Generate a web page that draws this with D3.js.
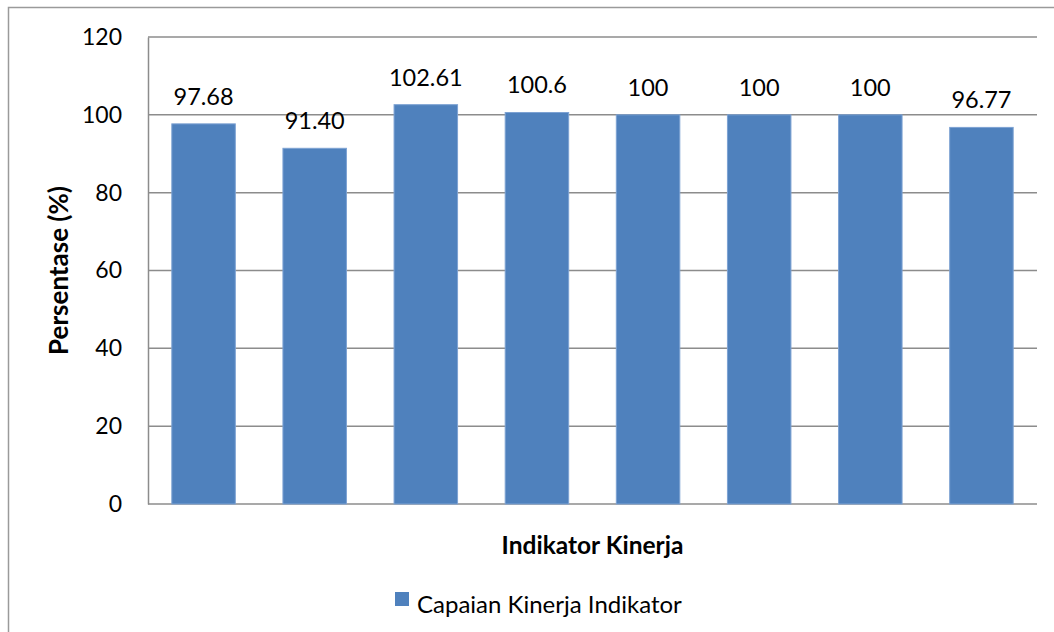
<!DOCTYPE html>
<html><head><meta charset="utf-8">
<script src="https://cdn.jsdelivr.net/npm/d3@7"></script>
<style>body{margin:0;background:#fff;}svg{display:block;font-family:Lato,"Open Sans",sans-serif;}</style>
</head><body>
<svg id="c" width="1054" height="632"></svg>
<script>
const categories = ["1","2","3","4","5","6","7","8"];
const values = [97.68, 91.40, 102.61, 100.6, 100, 100, 100, 96.77];
const valueLabels = ["97.68","91.40","102.61","100.6","100","100","100","96.77"];
const yTicks = [0,20,40,60,80,100,120];
const seriesName = "Capaian Kinerja Indikator";
const xTitle = "Indikator Kinerja";
const yTitle = "Persentase (%)";

const svg = d3.select("#c");
const L=148, R=1037, T=37, B=504;
svg.append("rect").attr("x",8.5).attr("y",7.5).attr("width",1100).attr("height",700)
  .attr("fill","none").attr("stroke","#9a9a9a").attr("stroke-width",1.5);

const x = d3.scaleBand().domain(categories).range([L,R]).paddingInner(0.75/1.75).paddingOuter(0.75/3.5);
const y = d3.scaleLinear().domain([0,120]).range([B,T]);

svg.append("g").selectAll("line").data(yTicks).join("line")
  .attr("x1",L).attr("x2",R).attr("y1",d=>y(d)).attr("y2",d=>y(d))
  .attr("stroke","#8c8c8c").attr("stroke-width",1.5);

const ya = svg.append("g").attr("transform",`translate(${L},0)`)
  .call(d3.axisLeft(y).tickValues(yTicks).tickSize(0).tickPadding(26));
ya.select(".domain").attr("stroke","#8c8c8c").attr("stroke-width",1.5);
ya.selectAll("text").attr("font-size",23).attr("fill","#000").attr("font-family","Lato,sans-serif");

svg.append("g").selectAll("rect").data(values).join("rect")
  .attr("x",(d,i)=>x(categories[i])).attr("width",x.bandwidth())
  .attr("y",d=>y(d)).attr("height",d=>y(0)-y(d))
  .attr("fill","#4f81bd").attr("stroke","#7da2d3").attr("stroke-width",1);

svg.append("g").selectAll("text").data(values).join("text")
  .attr("x",(d,i)=>x(categories[i])+x.bandwidth()/2).attr("y",d=>y(d)-19)
  .attr("text-anchor","middle").attr("font-size",23.5).attr("fill","#000")
  .text((d,i)=>valueLabels[i]);

svg.append("text").attr("x",(L+R)/2).attr("y",554).attr("text-anchor","middle")
  .attr("font-size",24.5).attr("font-weight","bold").text(xTitle);
svg.append("text").attr("transform",`translate(68,${(T+B)/2}) rotate(-90)`).attr("text-anchor","middle")
  .attr("font-size",26).attr("font-weight","bold").text(yTitle);

svg.append("rect").attr("x",395).attr("y",592).attr("width",14).attr("height",14).attr("fill","#4f81bd");
svg.append("text").attr("x",417).attr("y",613).attr("font-size",24).text(seriesName);
</script>
</body></html>
